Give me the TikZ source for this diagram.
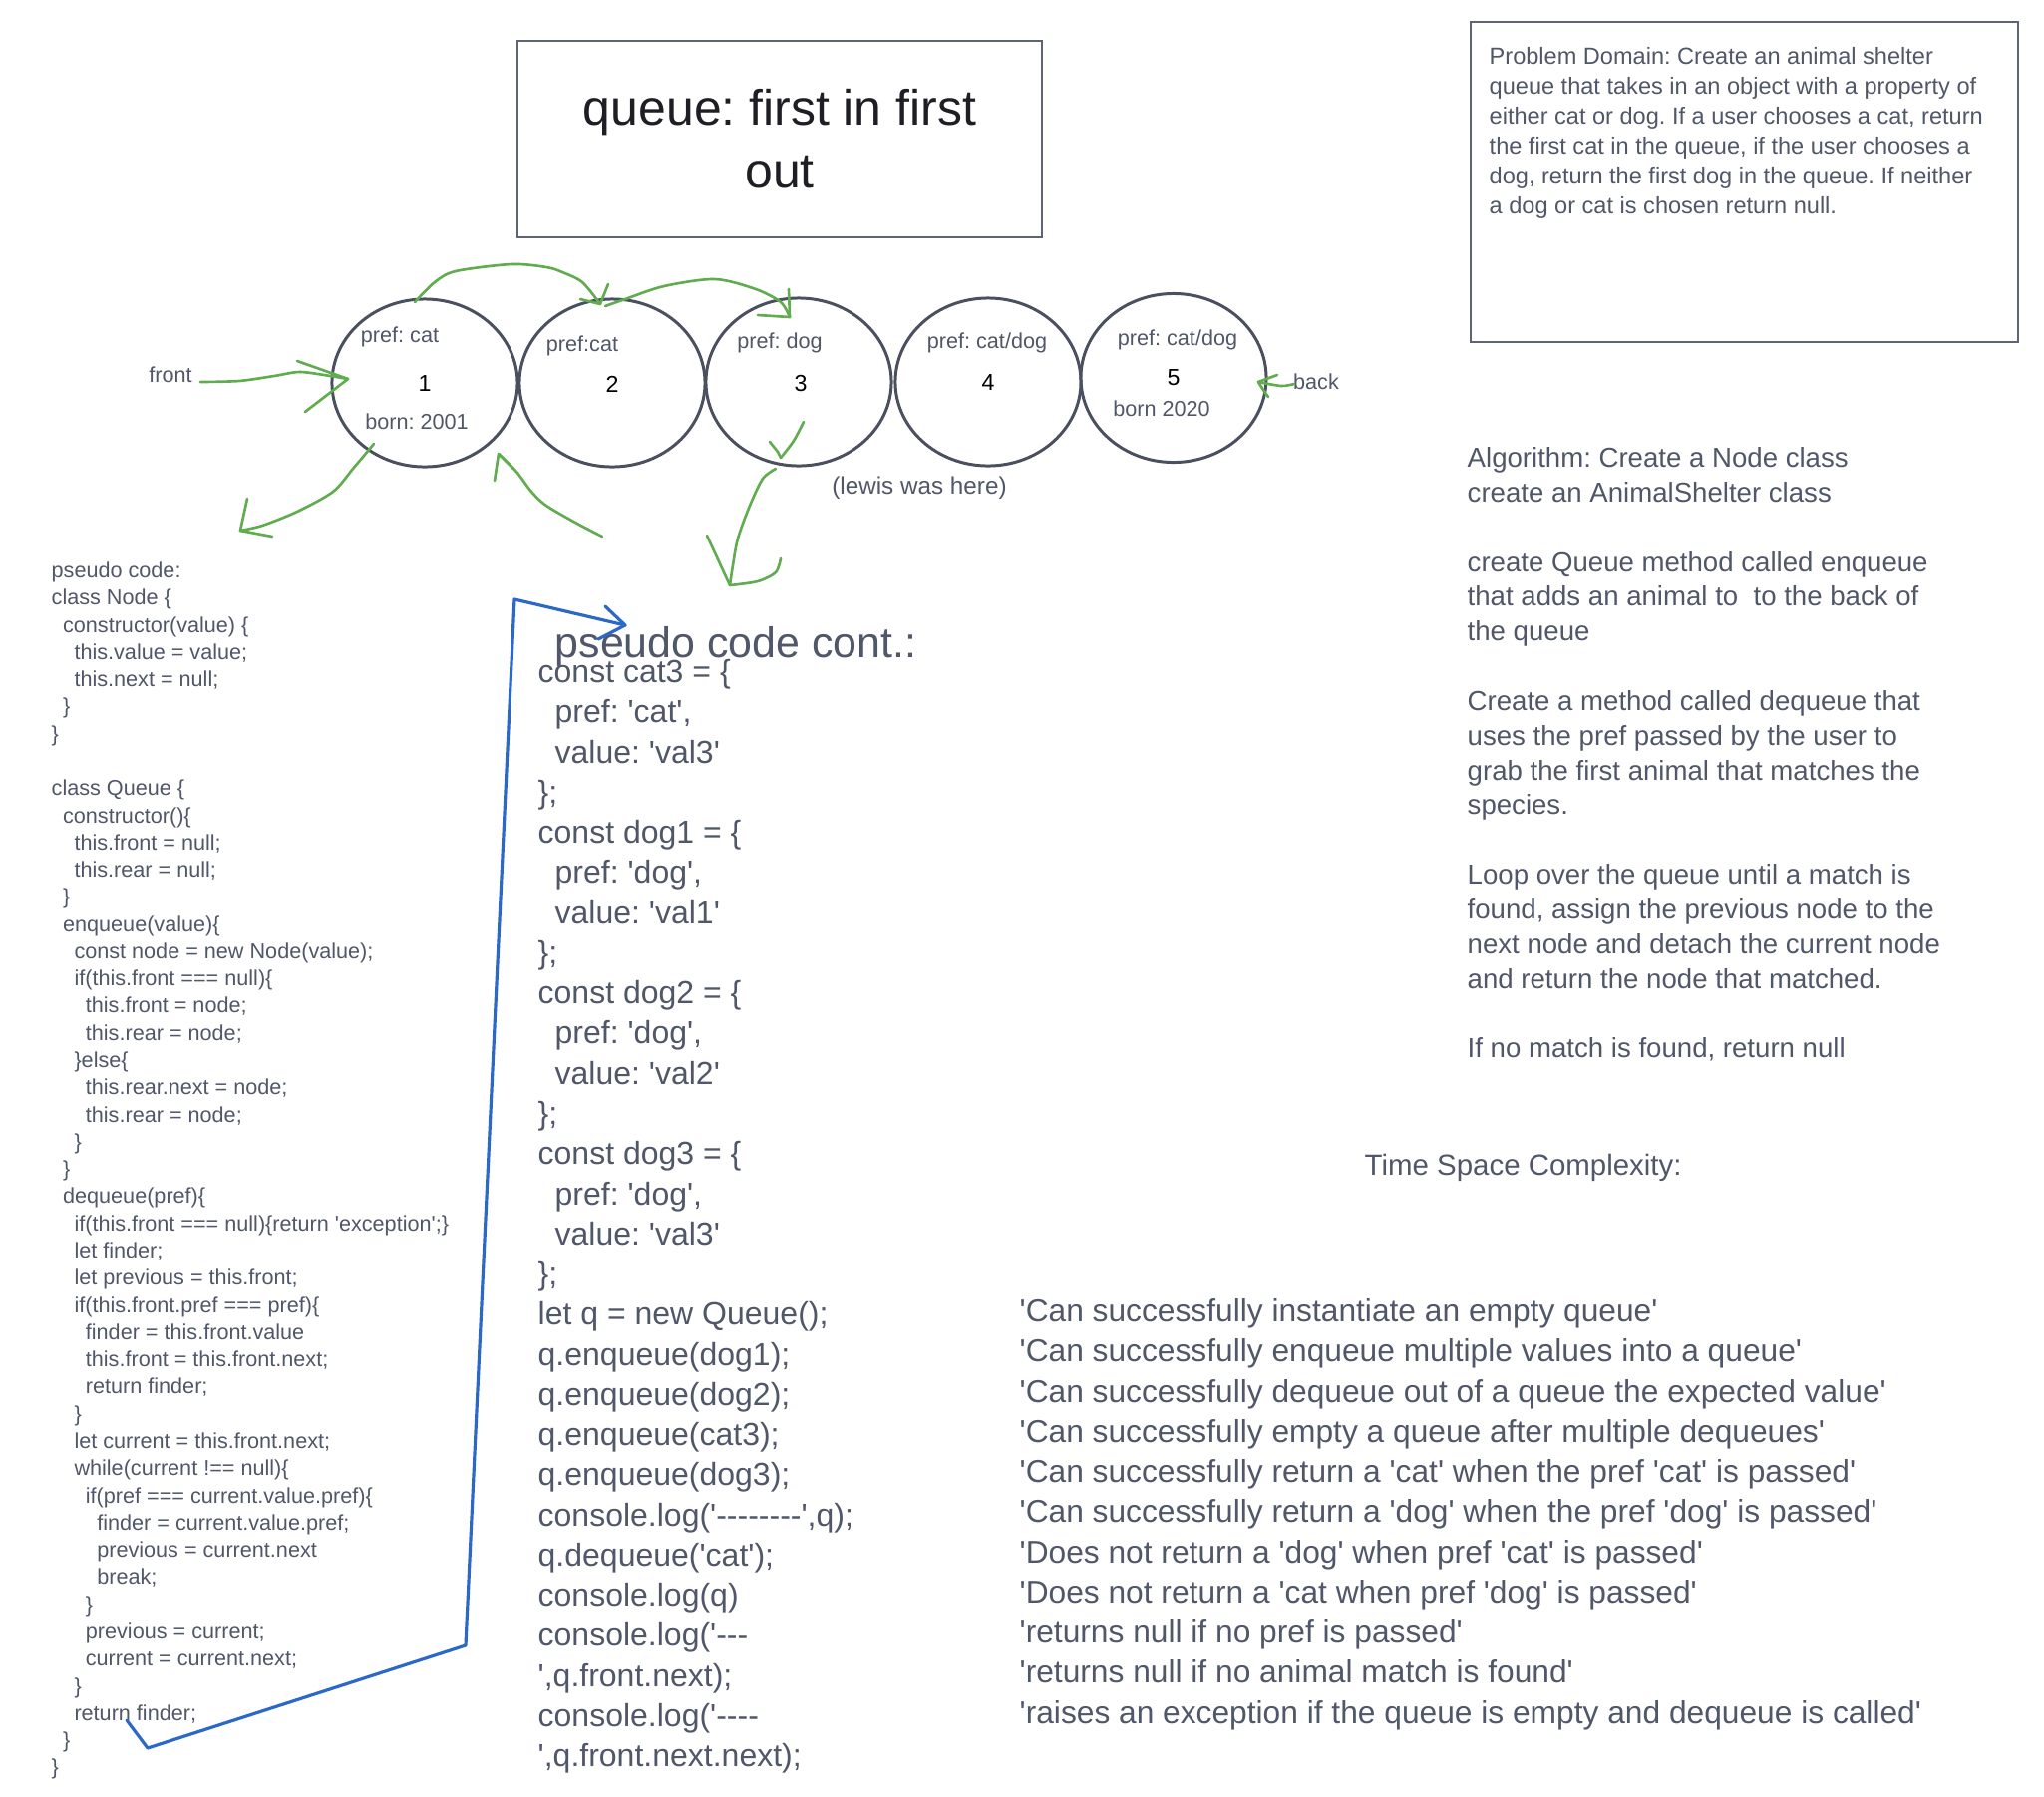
\documentclass[tikz,border=0pt]{standalone}
\usepackage{fontspec}
\setmainfont{Liberation Sans}[Ligatures=TeXOff]
\usepackage{xcolor}
\usetikzlibrary{shapes.geometric,calc}
\definecolor{inkslate}{RGB}{80,87,105}
\definecolor{inkdark}{RGB}{30,30,36}
\definecolor{ringgray}{RGB}{75,80,96}
\definecolor{boxgray}{RGB}{95,100,115}
\definecolor{markgreen}{RGB}{96,172,78}
\definecolor{markblue}{RGB}{43,104,200}
\frenchspacing
\tikzset{
  qnode/.style={ellipse, draw=ringgray, line width=0.85pt, minimum width=1.86cm, minimum height=1.68cm, inner sep=0pt},
  plabel/.style={text=inkslate, inner sep=0pt, font=\fontsize{6.15}{7.4}\selectfont},
  qnum/.style={text=black, inner sep=0pt, font=\fontsize{6.6}{8}\selectfont},
  boxframe/.style={draw=boxgray, line width=0.75pt, inner sep=0pt},
  greenpen/.style={draw=markgreen, line width=0.75pt, line cap=round, line join=round},
  bluepen/.style={draw=markblue, line width=0.9pt, line cap=round, line join=round},
  codeA/.style={text=inkslate, inner sep=0pt, anchor=base west, font=\fontsize{6.15}{7.4}\selectfont},
  codeB/.style={text=inkslate, inner sep=0pt, anchor=base west, font=\fontsize{9.1}{11}\selectfont},
  algo/.style={text=inkslate, inner sep=0pt, anchor=base west, font=\fontsize{7.85}{9.5}\selectfont},
  probtext/.style={text=inkslate, inner sep=0pt, anchor=base west, font=\fontsize{6.7}{8}\selectfont},
  testline/.style={text=inkslate, inner sep=0pt, anchor=base west, font=\fontsize{9.02}{11}\selectfont}
}

\begin{document}
\begin{tikzpicture}[x=0.01cm, y=-0.01cm]
  \useasboundingbox (0,0) rectangle (2050,1802);
  \fill[white] (0,0) rectangle (2050,1802);

  % title and problem boxes
  \node[boxframe, minimum width=5.26cm, minimum height=1.97cm, align=center, text=inkdark,
        font=\fontsize{14.2}{17.9}\selectfont] (title) at (782,139.5) {queue: first in first\\out};
  \node[boxframe, minimum width=5.49cm, minimum height=3.21cm] (probbox) at (1749.5,182.5) {};
  \foreach \txt [count=\k from 0] in {
      {Problem Domain: Create an animal shelter},
      {queue that takes in an object with a property of},
      {either cat or dog. If a user chooses a cat, return},
      {the first cat in the queue, if the user chooses a},
      {dog, return the first dog in the queue. If neither},
      {a dog or cat is chosen return null.}}
    \node[probtext] (pd\k) at (1493,64+\k*30.07) {\txt};

  % queue nodes
  \node[qnode] (q1) at (426,384) {};
  \node[qnode] (q2) at (614,384) {};
  \node[qnode] (q3) at (801,383) {};
  \node[qnode] (q4) at (991,383) {};
  \node[qnode, minimum height=1.69cm] (q5) at (1177,379) {};

  \node[plabel] (p1) at ($(q1)+(-25,-46)$) {pref: cat};
  \node[qnum]   (n1) at ($(q1)+(0,1)$) {1};
  \node[plabel] (b1) at ($(q1)+(-8,39)$) {born: 2001};
  \node[plabel] (p2) at ($(q2)+(-30,-37)$) {pref:cat};
  \node[qnum]   (n2) at ($(q2)+(0,1)$) {2};
  \node[plabel] (p3) at ($(q3)+(-19,-39)$) {pref: dog};
  \node[qnum]   (n3) at ($(q3)+(2,1)$) {3};
  \node[plabel] (p4) at ($(q4)+(-1,-39)$) {pref: cat/dog};
  \node[qnum]   (n4) at ($(q4)+(0,1)$) {4};
  \node[plabel] (p5) at ($(q5)+(4,-38)$) {pref: cat/dog};
  \node[qnum]   (n5) at (q5) {5};
  \node[plabel] (b5) at ($(q5)+(-12,31)$) {born 2020};

  \node[plabel] (front) at (171,376) {front};
  \node[plabel] (back) at (1320,383) {back};
  \node[plabel, font=\fontsize{6.9}{8.3}\selectfont] (lewis) at (922,489) {(lewis was here)};

  % green pointers
  \coordinate (fa0) at (201,383);
  \coordinate (fa1) at (349,380);
  \draw[greenpen] plot[smooth] coordinates {(fa0) (240,382) (275,377) (300,373) (325,376) (fa1)};
  \draw[greenpen] (298,362) -- (fa1) -- (306,413);

  \coordinate (ta0) at (416,303);
  \coordinate (ta1) at (602,305);
  \draw[greenpen] plot[smooth] coordinates {(ta0) (436,283) (457,272) (513,265) (548,268) (564,273) (584,283) (ta1)};
  \draw[greenpen] (610,285) -- (ta1) -- (582,300);

  \coordinate (tb0) at (607,307);
  \coordinate (tb1) at (792,318);
  \draw[greenpen] plot[smooth] coordinates {(tb0) (627,300) (666,287) (717,280) (758,290) (783,303) (tb1)};
  \draw[greenpen] (791,290) -- (tb1) -- (760,316);

  \coordinate (da0) at (375,445);
  \coordinate (da1) at (241,532);
  \draw[greenpen] plot[smooth] coordinates {(da0) (354,470) (334,493) (298,513) (263,527) (da1)};
  \draw[greenpen] (248,500) -- (da1) -- (273,538);

  \coordinate (ua0) at (604,538);
  \coordinate (ua1) at (500,455);
  \draw[greenpen] plot[smooth] coordinates {(ua0) (579,525) (548,507) (533,493) (518,473) (ua1)};
  \draw[greenpen] (496,482) -- (ua1) -- (515,470);

  \coordinate (ia0) at (806,423);
  \coordinate (ia1) at (783,459);
  \draw[greenpen] plot[smooth] coordinates {(ia0) (796,442) (ia1)};
  \draw[greenpen] (772,443) -- (780,453) -- (ia1);

  \coordinate (ga0) at (778,470);
  \coordinate (ga1) at (732,587);
  \draw[greenpen] plot[smooth] coordinates {(ga0) (765,480) (752,507) (740,540) (735,567) (ga1)};
  \draw[greenpen] (709,537) -- (ga1);
  \draw[greenpen] plot[smooth] coordinates {(783,560) (778,574) (760,583) (ga1)};

  \coordinate (ka0) at (1298,385);
  \coordinate (ka1) at (1262,383);
  \draw[greenpen] plot[smooth] coordinates {(ka0) (1285,387) (ka1)};
  \draw[greenpen] (1281,376) -- (ka1);
  \draw[greenpen] plot[smooth] coordinates {(ka1) (1267,391) (1272,398)};

  % pseudo code, first part
  \foreach \lv/\txt [count=\k from 0] in {
      0/{pseudo code:}, 0/{class Node \{}, 1/{constructor(value) \{}, 2/{this.value = value;},
      2/{this.next = null;}, 1/{\}}, 0/{\}}, 0/{},
      0/{class Queue \{}, 1/{constructor()\{}, 2/{this.front = null;}, 2/{this.rear = null;},
      1/{\}}, 1/{enqueue(value)\{}, 2/{const node = new Node(value);}, 2/{if(this.front === null)\{},
      3/{this.front = node;}, 3/{this.rear = node;}, 2/{\}else\{}, 3/{this.rear.next = node;},
      3/{this.rear = node;}, 2/{\}}, 1/{\}}, 1/{dequeue(pref)\{},
      2/{if(this.front === null)\{return 'exception';\}}, 2/{let finder;},
      2/{let previous = this.front;}, 2/{if(this.front.pref === pref)\{},
      3/{finder = this.front.value}, 3/{this.front = this.front.next;}, 3/{return finder;},
      2/{\}}, 2/{let current = this.front.next;}, 2/{while(current !== null)\{},
      3/{if(pref === current.value.pref)\{}, 4/{finder = current.value.pref;},
      4/{previous = current.next}, 4/{break;}, 3/{\}}, 3/{previous = current;},
      3/{current = current.next;}, 2/{\}}, 2/{return finder;}, 1/{\}}, 0/{\}}}
    \node[codeA] (pc\k) at (51+\lv*11.4,579.5+\k*27.28) {\txt};

  % pseudo code, second part
  \node[codeB, font=\fontsize{12.2}{14.6}\selectfont] (contHead) at (556,659) {pseudo code cont.:};
  \foreach \lv/\txt [count=\k from 0] in {
      0/{const cat3 = \{}, 1/{pref: 'cat',}, 1/{value: 'val3'}, 0/{\};},
      0/{const dog1 = \{}, 1/{pref: 'dog',}, 1/{value: 'val1'}, 0/{\};},
      0/{const dog2 = \{}, 1/{pref: 'dog',}, 1/{value: 'val2'}, 0/{\};},
      0/{const dog3 = \{}, 1/{pref: 'dog',}, 1/{value: 'val3'}, 0/{\};},
      0/{let q = new Queue();}, 0/{q.enqueue(dog1);}, 0/{q.enqueue(dog2);},
      0/{q.enqueue(cat3);}, 0/{q.enqueue(dog3);}, 0/{console.log('--------',q);},
      0/{q.dequeue('cat');}, 0/{console.log(q)}, 0/{console.log('---},
      0/{',q.front.next);}, 0/{console.log('----}, 0/{',q.front.next.next);}}
    \node[codeB] (cc\k) at (539+\lv*17,684.5+\k*40.27) {\txt};

  % blue link from first part to second part
  \coordinate (bl0) at (127,1725);
  \coordinate (bl1) at (148,1753);
  \coordinate (bl2) at (467,1650);
  \coordinate (bl3) at (516,601);
  \coordinate (bl4) at (627,627);
  \draw[bluepen] (bl0) -- (bl1) -- (bl2) -- (bl3) -- (bl4);
  \draw[bluepen] (607,608) -- (bl4) -- (600,641);

  % algorithm
  \foreach \txt [count=\k from 0] in {
      {Algorithm: Create a Node class}, {create an AnimalShelter class}, {},
      {create Queue method called enqueue}, {that adds an animal to~ to the back of}, {the queue}, {},
      {Create a method called dequeue that}, {uses the pref passed by the user to},
      {grab the first animal that matches the}, {species.}, {},
      {Loop over the queue until a match is}, {found, assign the previous node to the},
      {next node and detach the current node}, {and return the node that matched.}, {},
      {If no match is found, return null}}
    \node[algo] (al\k) at (1471,468.5+\k*34.84) {\txt};

  \node[testline, font=\fontsize{8.37}{10}\selectfont] (tsc) at (1368,1178) {Time Space Complexity:};

  % tests
  \foreach \txt [count=\k from 0] in {
      {'Can successfully instantiate an empty queue'},
      {'Can successfully enqueue multiple values into a queue'},
      {'Can successfully dequeue out of a queue the expected value'},
      {'Can successfully empty a queue after multiple dequeues'},
      {'Can successfully return a 'cat' when the pref 'cat' is passed'},
      {'Can successfully return a 'dog' when the pref 'dog' is passed'},
      {'Does not return a 'dog' when pref 'cat' is passed'},
      {'Does not return a 'cat when pref 'dog' is passed'},
      {'returns null if no pref is passed'},
      {'returns null if no animal match is found'},
      {'raises an exception if the queue is empty and dequeue is called'}}
    \node[testline] (ts\k) at (1022,1325.5+\k*40.27) {\txt};
\end{tikzpicture}
\end{document}
